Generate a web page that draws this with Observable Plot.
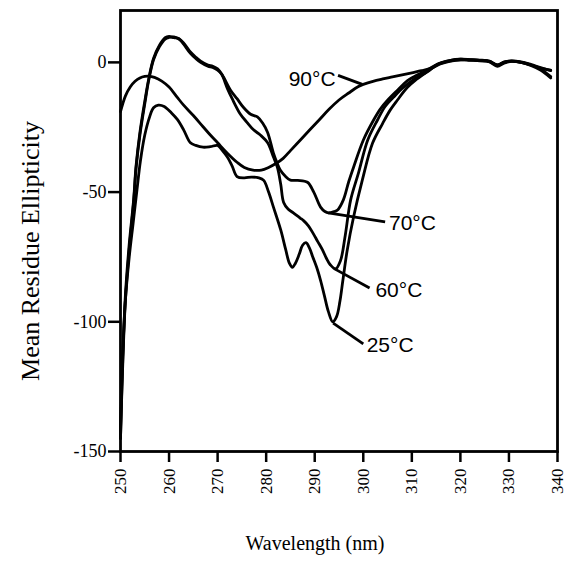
<!DOCTYPE html>
<html><head><meta charset="utf-8">
<script src="https://cdn.jsdelivr.net/npm/d3@7"></script>
<script src="https://cdn.jsdelivr.net/npm/@observablehq/plot@0.6"></script>
<style>body{margin:0;background:#fff}</style>
</head><body><div id="chart"></div>
<script>
const xTicks = [250, 260, 270, 280, 290, 300, 310, 320, 330, 340];
const yTicks = [0, -50, -100, -150];
const xLabel = "Wavelength (nm)";
const yLabel = "Mean Residue Ellipticity";

const s25 = [[250,-142],[250.4,-115],[251,-92],[251.8,-75],[252.6,-62],[253.4,-49],[254.1,-38],[255,-28],[256,-21],[256.8,-17.5],[257.8,-16.5],[259,-17],[260.5,-19.5],[261.7,-22],[263,-26],[264.4,-31],[265.5,-32],[267,-32.7],[268.5,-32.5],[270,-32],[271,-34],[272,-36.5],[273,-40],[274,-44],[275.5,-44.5],[277,-44.2],[278.5,-44.5],[279.5,-45.5],[280.5,-50],[281.5,-55.8],[283,-64.6],[284,-72],[284.8,-77.5],[285.4,-79],[286,-77.5],[286.8,-74],[287.5,-70.5],[288.2,-69.5],[288.9,-71.5],[289.6,-75],[290.4,-79],[291.2,-84],[292,-90],[292.8,-96],[293.7,-100],[294.5,-98],[295.2,-92],[295.8,-84],[296.7,-72.3],[298,-59.6],[299.8,-45.4],[301.9,-31.2],[304,-23.5],[305.5,-18.5],[307,-14.6],[309.1,-9.6],[311,-6.5],[313.2,-3.5],[315.3,-0.8],[318,0.6],[320,1],[322,0.8],[324,0.6],[326,0.2],[327.6,-1.5],[329,-0.3],[330.5,0.4],[332.5,0],[334.5,-1],[336.5,-2.5],[338.6,-5.5]];

const s60 = [[250,-145],[250.4,-118],[251,-90],[251.8,-70],[252.7,-53],[253.2,-40],[254,-27],[255,-15],[255.8,-6.5],[256.8,1.5],[258,6.5],[259.2,9.5],[260,10],[261,9.5],[262,9.2],[263,7],[264.4,3.5],[265.5,1.5],[266.5,0],[268,-1.5],[269,-2],[270,-3],[270.8,-4.5],[272,-10],[273,-14],[274.7,-20],[276,-23],[277.4,-26],[278.8,-28],[280.3,-31],[281.5,-36.5],[282.3,-40.4],[283,-47],[283.6,-54],[284.5,-56.5],[285.6,-58],[287,-60],[287.7,-61],[288.7,-63],[289.7,-66],[290.6,-69],[291.6,-72.3],[292.4,-75.5],[293.2,-78],[294.3,-79.6],[295.3,-76.5],[296.3,-66.5],[297.4,-53],[299,-42.7],[300.9,-30],[302.9,-22.3],[304.5,-17],[306.2,-13.5],[308.3,-9.6],[310.5,-6.5],[313.2,-3.6],[315.3,-0.8],[318,0.8],[320,1.2],[322,1],[324,0.8],[326,0.5],[327.6,-1],[329,0],[330.5,0.6],[332.5,0.2],[334.5,-0.8],[336.5,-2],[338.6,-3.2]];

const s70 = [[250,-145],[250.4,-120],[251,-92],[251.8,-72],[252.7,-54],[253.2,-41],[254,-28],[255,-16],[255.8,-7],[256.8,1],[258,6],[259.2,9],[260,9.6],[261,9.8],[262,9],[263,7.5],[264.4,4],[265.5,2],[266.5,0.5],[268,-1],[269,-1.5],[270,-2.5],[271,-5],[272.7,-10.8],[274,-14],[275.3,-17.3],[276.8,-20],[278.2,-21],[279.3,-23.5],[280.3,-27],[281.5,-35],[282.3,-39],[282.9,-41.5],[284,-44],[285,-45.4],[286.5,-45.5],[288.5,-46.2],[289.8,-50],[291.2,-55.8],[292.1,-57.5],[292.8,-58],[294,-57.5],[294.7,-56.9],[295.9,-53],[297,-46],[298,-40.4],[300,-30],[302.1,-22.3],[303.5,-18],[305,-14.6],[307,-10.8],[309.1,-7],[311,-5],[313.2,-3],[315.3,-0.6],[318,0.8],[320,1.2],[322,1.1],[324,0.9],[326,0.4],[327.6,-1.2],[329,0.2],[330.5,0.5],[332.5,0],[334.5,-1],[336.5,-2.2],[338.6,-3]];

const s90 = [[250,-19],[251,-13],[252,-9.5],[253,-7.3],[254,-6],[255,-5.4],[255.8,-5.3],[257,-5.8],[258.5,-7.2],[260,-9.5],[261.7,-13.5],[263,-16.5],[265,-20.5],[267,-24.8],[268.5,-28],[270,-31],[272,-35],[274,-38.5],[275.5,-40.5],[277.3,-41.5],[279,-41.5],[280.5,-40.5],[282,-39],[283.5,-37],[285,-34],[287,-30],[289,-26],[291,-22],[293,-18],[295,-14.5],[297,-11.8],[299,-9.3],[300,-8.5],[302,-7.3],[304,-6.4],[306,-5.6],[308,-4.8],[310,-4],[312,-3.2],[314,-2.2],[316,-0.5],[318,0.5],[320,1],[322,1],[324,0.7],[326,0.3],[327.6,-1],[329,0],[330.5,0.5],[332.5,0],[334.5,-1.2],[336.5,-3],[338.6,-6]];

const seriesNames = ["25°C", "60°C", "70°C", "90°C"];
const seriesData = [s25, s60, s70, s90];

const labelText = ["90°C", "70°C", "60°C", "25°C"];
const labelX = [294.3, 305.3, 302.5, 300.7];
const labelY = [-6.5, -62, -87.7, -109];
const leaderX1 = [294.8, 292.8, 294.0, 293.8];
const leaderY1 = [-5, -58, -79.5, -100.5];
const leaderX2 = [299.8, 304.5, 301.3, 300.0];
const leaderY2 = [-8.5, -61.5, -87, -108.5];

const rows = seriesData.flatMap((s, i) => s.map(([wl, v]) => ({wl, v, t: seriesNames[i]})));
const labels = labelText.map((t, i) => ({t, x: labelX[i], y: labelY[i]}));
const leaders = labelText.map((t, i) => ({x1: leaderX1[i], y1: leaderY1[i], x2: leaderX2[i], y2: leaderY2[i]}));

const chart = Plot.plot({
  width: 566,
  height: 570,
  marginLeft: 120,
  marginRight: 9,
  marginTop: 10,
  marginBottom: 119,
  style: {background: "white", fontFamily: "Liberation Serif", color: "black"},
  x: {domain: [250, 340]},
  y: {domain: [-150, 20]},
  marks: [
    Plot.axisX({ticks: xTicks, tickFormat: d => String(d), tickSize: 11, tickPadding: 6, tickRotate: -90, fontSize: 17, strokeWidth: 2.5, label: null, fill: "black"}),
    Plot.axisY({ticks: yTicks, tickFormat: d => String(d), tickSize: 12, tickPadding: 2, fontSize: 18, strokeWidth: 2.5, label: null, fill: "black"}),
    Plot.frame({stroke: "black", strokeWidth: 2.8}),
    Plot.line(rows, {x: "wl", y: "v", z: "t", stroke: "black", strokeWidth: 2.8, curve: "catmull-rom"}),
    Plot.link(leaders, {x1: "x1", y1: "y1", x2: "x2", y2: "y2", stroke: "black", strokeWidth: 2.8}),
    Plot.text(labels.slice(0, 1), {x: "x", y: "y", text: "t", textAnchor: "end", fontSize: 21, fontFamily: "Liberation Sans", fill: "black"}),
    Plot.text(labels.slice(1), {x: "x", y: "y", text: "t", textAnchor: "start", fontSize: 21, fontFamily: "Liberation Sans", fill: "black"}),
    Plot.text([xLabel], {frameAnchor: "bottom", textAnchor: "middle", lineAnchor: "middle", dx: -24, dy: 92, fontSize: 20, fill: "black"}),
    Plot.text([yLabel], {frameAnchor: "left", textAnchor: "middle", lineAnchor: "middle", rotate: -90, dx: -90, dy: 20, fontSize: 26, fill: "black"})
  ]
});
document.getElementById("chart").appendChild(chart);
</script>
</body></html>
